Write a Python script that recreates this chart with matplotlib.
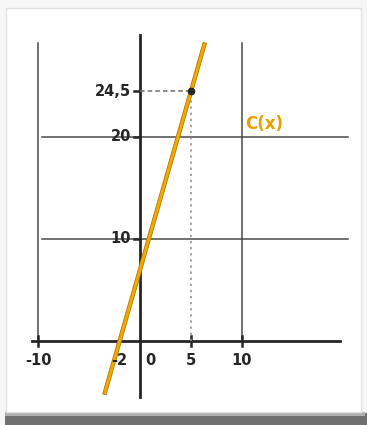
import matplotlib.pyplot as plt
import matplotlib.patheffects as pe
from matplotlib.patches import Rectangle

# C(x) = 3.5x + 7, drawn between these x values
line_x = [-3.45, 6.3]
slope, intercept = 3.5, 7.0
line_y = [slope * x + intercept for x in line_x]

point_x, point_y = 5, 24.5
x_ticks = [-10, -2, 0, 5, 10]
x_tick_labels = ['-10', '-2', '0', '5', '10']
y_ticks = [10, 20, 24.5]
y_tick_labels = ['10', '20', '24,5']
grid_x = [-10, 10]
grid_y = [10, 20]

fig = plt.figure(figsize=(3.67, 4.25), dpi=100)
fig.patch.set_facecolor('#f6f6f6')
ax = fig.add_axes([0, 0, 1, 1])
ax.set_xlim(-13.73, 22.25)
ax.set_ylim(-8.24, 33.43)
ax.axis('off')

# card with a shadow along the bottom
ax.add_patch(Rectangle((-13.2, -8.3), 35.5, 1.25, facecolor='#707070',
                       edgecolor='none', zorder=0))
ax.add_patch(Rectangle((-13.2, -7.35), 35.3, 0.35, facecolor='#b0b0b0',
                       edgecolor='none', zorder=0.2))
ax.add_patch(Rectangle((-13.1, -7.0), 34.8, 39.6, facecolor='white',
                       edgecolor='#e2e2e2', lw=1, zorder=0.5))

ink = '#262626'
# grid lines
for gx in grid_x:
    ax.plot([gx, gx], [0, 29.2], color='#4a4a4a', lw=1.1, zorder=1)
for gy in grid_y:
    ax.plot([-9.6, 20.4], [gy, gy], color='#4a4a4a', lw=1.1, zorder=1)

# axes
ax.plot([-10.6, 19.6], [0, 0], color=ink, lw=2.0, zorder=2)
ax.plot([0, 0], [-5.5, 30.0], color=ink, lw=2.0, zorder=2)

# tick marks
for tx in [-10, 5, 10]:
    ax.plot([tx, tx], [-0.5, 0.5], color=ink, lw=1.8, zorder=2)
for ty in y_ticks:
    ax.plot([-0.6, 0], [ty, ty], color=ink, lw=1.8, zorder=2)

# guide lines to the point
ax.plot([0, point_x], [point_y, point_y], color='#707070', lw=1.1,
        ls=(0, (3, 2)), zorder=2)
ax.plot([point_x, point_x], [0, point_y], color='#8a8a8a', lw=1.1,
        ls=(0, (1.5, 2.5)), zorder=2)

# C(x)
ax.plot(line_x, line_y, color='#f2a900', lw=2.0, zorder=3,
        path_effects=[pe.Stroke(linewidth=3.2, foreground='#b57a00'), pe.Normal()])
ax.plot([point_x], [point_y], 'o', color=ink, ms=4.5, zorder=4)

# labels
for tx, lab in zip(x_ticks, x_tick_labels):
    ax.text(tx + (1.0 if tx == 0 else 0), -1.9, lab, ha='center', va='center',
            fontsize=10.5, fontweight='semibold', color=ink)
for ty, lab in zip(y_ticks, y_tick_labels):
    ax.text(-0.9, ty, lab, ha='right', va='center', fontsize=10.5,
            fontweight='semibold', color=ink)
ax.text(10.3, 21.3, 'C(x)', ha='left', va='center', fontsize=12,
        fontweight='bold', color='#e8a000')

fig.savefig('out.png', dpi=100, facecolor=fig.get_facecolor())
